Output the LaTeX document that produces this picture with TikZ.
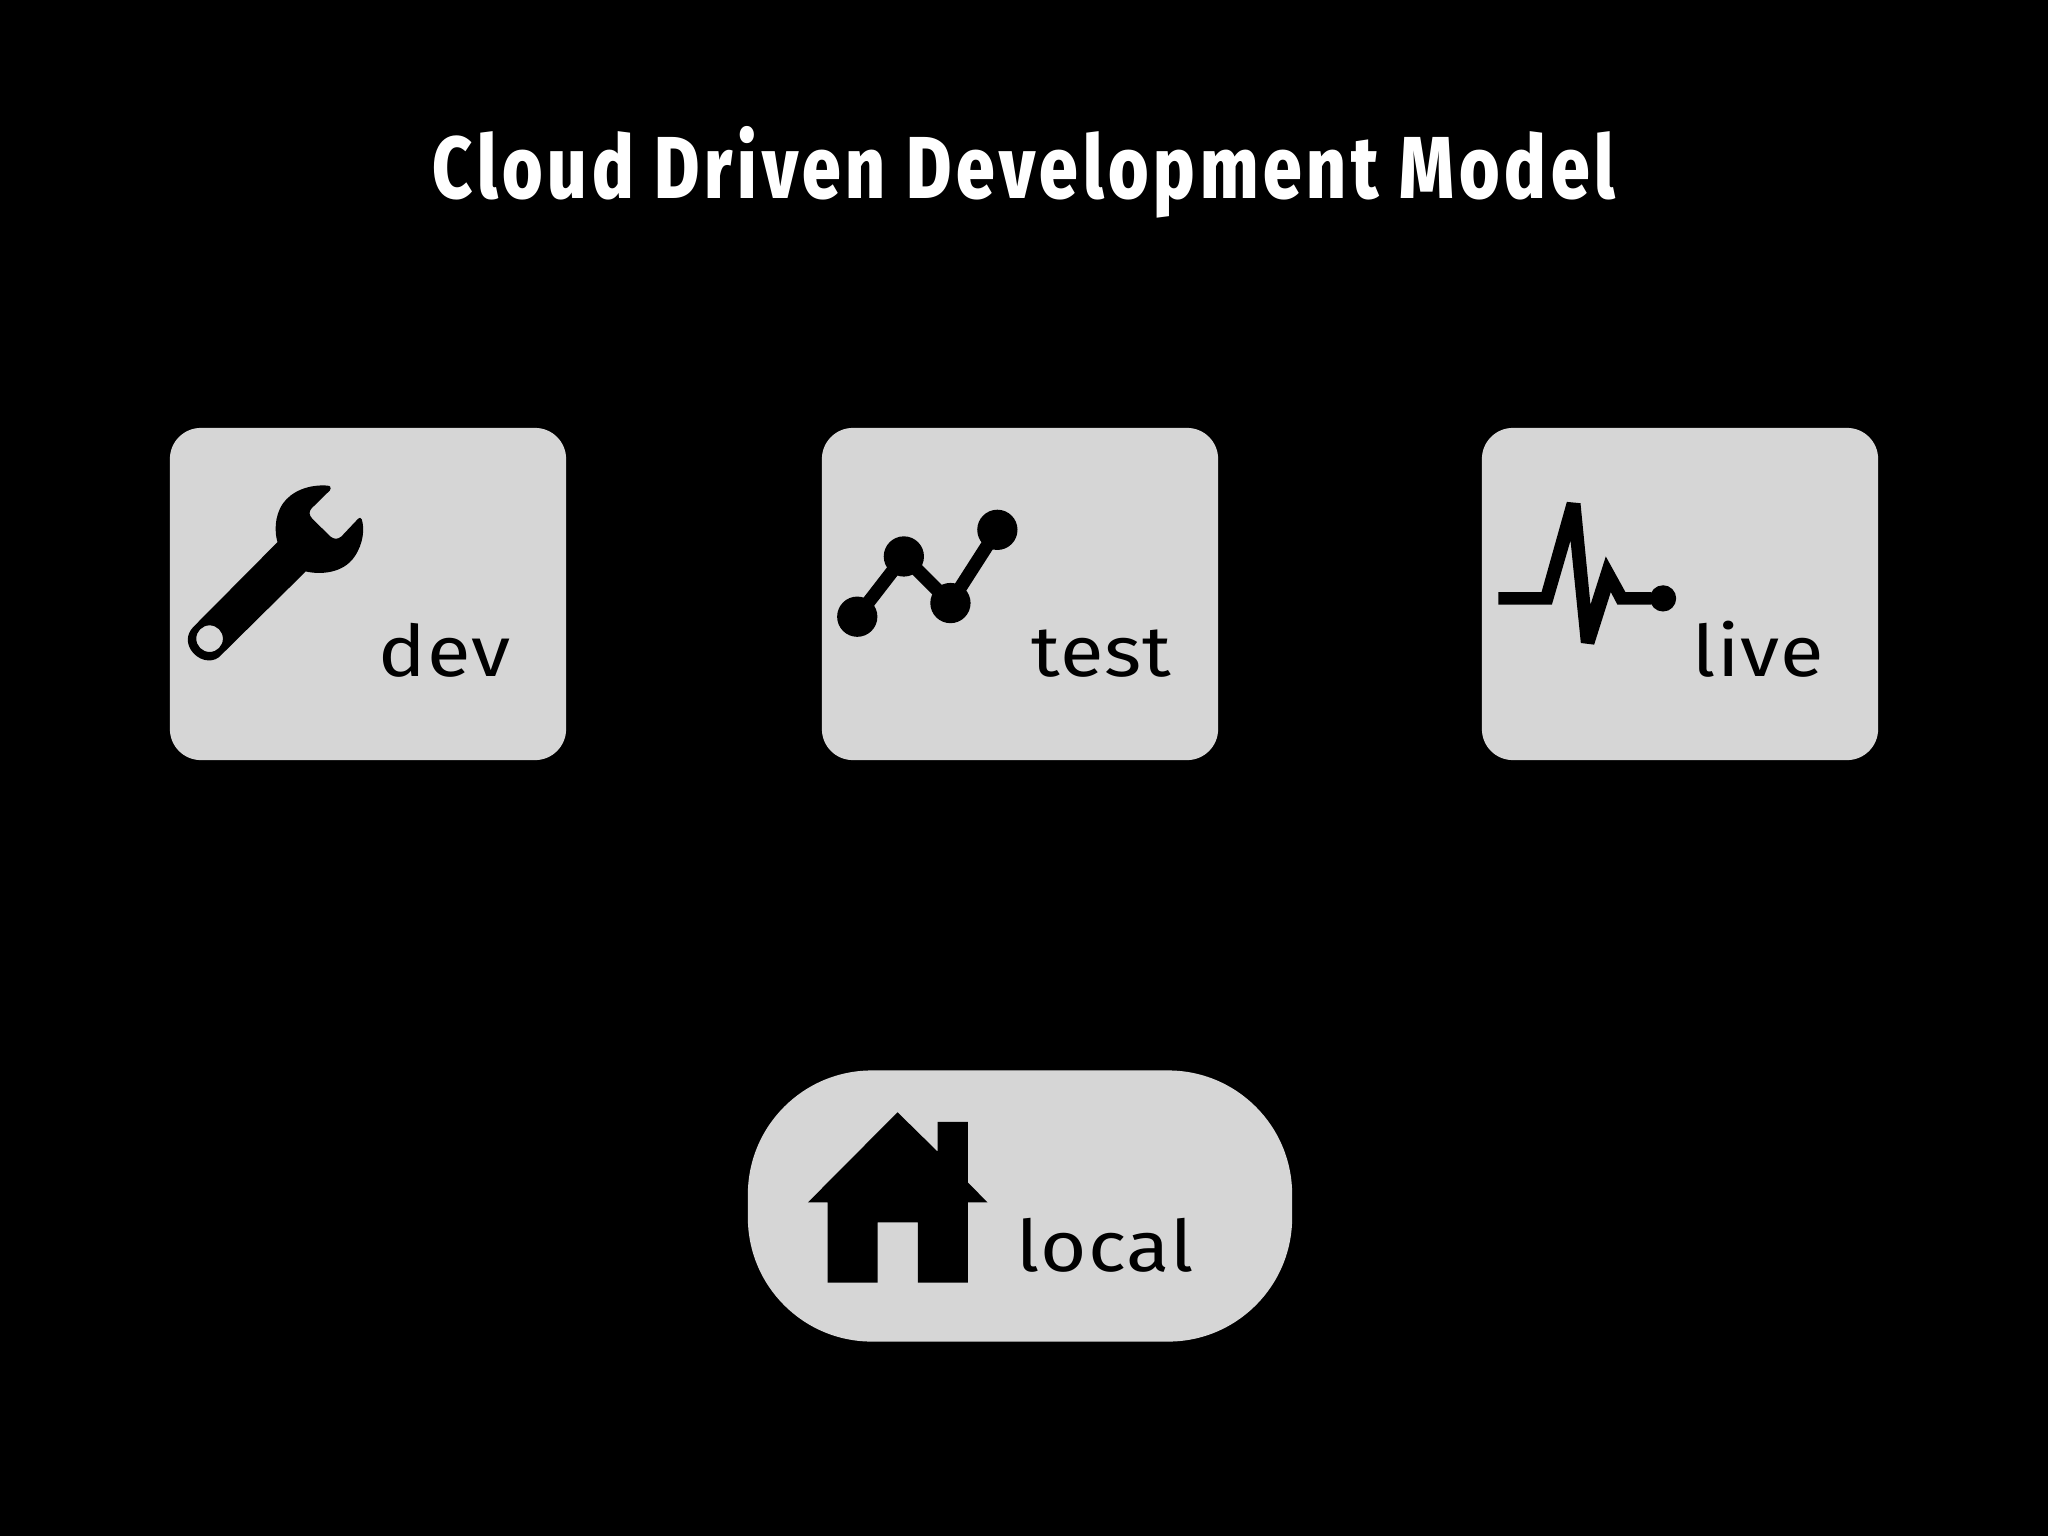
\documentclass[tikz,border=0pt]{standalone}
\usepackage{fontspec}
\setmainfont{Fira Sans}
\newfontfamily\titlefont[FakeStretch=0.79,LetterSpace=5.5,BoldFont={Fira Sans ExtraBold}]{Fira Sans}
\newfontfamily\labelfont[FakeStretch=1.12,LetterSpace=1.5]{Fira Sans}
\definecolor{panelgray}{HTML}{D6D6D6}
\tikzset{
  panel/.style={fill=panelgray,draw=none,rounded corners=0.31cm,minimum width=3.96cm,minimum height=3.32cm,inner sep=0pt},
  pill/.style={fill=panelgray,draw=none,rounded corners=1.24cm,minimum width=5.44cm,minimum height=2.71cm,inner sep=0pt},
  lab/.style={anchor=base west,inner sep=0pt,text=black,font=\labelfont\fontsize{20.2}{24}\selectfont},
  zoomed/.style={x=0.003333cm,y=-0.003333cm},
  zoomedwide/.style={x=0.0035714cm,y=-0.003333cm},
}
\begin{document}
\begin{tikzpicture}[x=0.01cm,y=-0.01cm]
\useasboundingbox (0,0) rectangle (2048,1536);
\fill[black] (0,0) rectangle (2048,1536);
\node[anchor=base,inner sep=0pt,text=white,font=\titlefont\bfseries\fontsize{25}{30}\selectfont] (title) at (1024,198) {Cloud Driven Development Model};
\node[panel] (dev) at (368,594) {};
\node[panel] (test) at (1020,594) {};
\node[panel] (live) at (1680,594) {};
\node[pill] (local) at (1020,1206) {};
\node[lab] (devlab) at (378,676) {dev};
\node[lab] (testlab) at (1031,676) {test};
\node[lab] (livelab) at (1692,676) {live};
\node[lab] (locallab) at (1016,1271) {local};
% wrench
\begin{scope}[shift={(160,420)},zoomed]
\fill[black,even odd rule] (353,367) -- (100,622) .. controls (78,645) and (78,675) .. (100,700)
 .. controls (125,728) and (165,730) .. (185,705) -- (438,455)
 .. controls (480,465) and (550,462) .. (585,410)
 .. controls (612,370) and (615,325) .. (606,298)
 .. controls (603,292) and (599,293) .. (595,297) -- (545,350)
 .. controls (533,360) and (522,358) .. (512,350) -- (458,297)
 .. controls (447,285) and (447,275) .. (456,265) -- (510,212)
 .. controls (515,205) and (513,197) .. (503,197)
 .. controls (445,193) and (395,215) .. (370,250)
 .. controls (342,290) and (345,340) .. (353,367) -- cycle
 (149,657) circle [radius=40];
\end{scope}
% chart
\begin{scope}[shift={(810,420)},zoomed]
\coordinate (c1) at (142,591);
\coordinate (c2) at (282,410);
\coordinate (c3) at (422,550);
\coordinate (c4) at (563,330);
\draw[black,line width=0.133cm] (c1) -- (c2) -- (c3) -- (c4);
\foreach \p in {c1,c2,c3,c4} \fill[black] (\p) circle [radius=60.5];
\end{scope}
% pulse
\begin{scope}[shift={(1470,420)},zoomed]
\fill[black] (85,517) -- (215,517) -- (291,246) -- (332,250) -- (362,555) -- (408,410) -- (467,517) -- (545,517) -- (545,555) -- (443,555) -- (423,517) -- (373,675) -- (333,670) -- (302,362) -- (246,555) -- (85,555) -- cycle;
\fill[black] (580,536) circle [radius=39.5];
\end{scope}
% house
\begin{scope}[shift={(740,1060)},zoomedwide]
\fill[black] (441,157) -- (553,275) -- (553,186) -- (638,186) -- (638,368) -- (693,428) -- (638,428) -- (638,669) -- (498,669) -- (498,488) -- (385,488) -- (385,669) -- (245,669) -- (245,428) -- (190,428) -- cycle;
\end{scope}
\end{tikzpicture}
\end{document}
